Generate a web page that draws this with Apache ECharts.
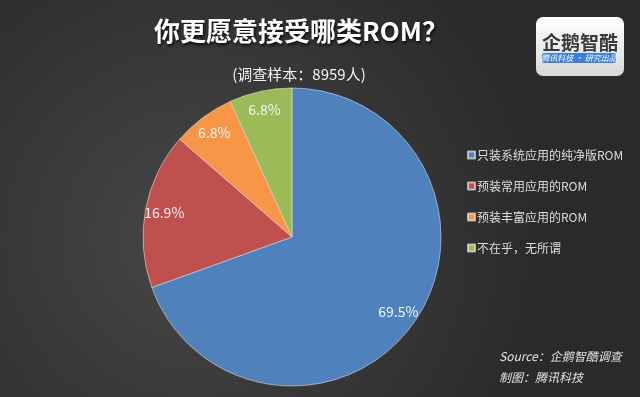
<!DOCTYPE html>
<html><head><meta charset="utf-8">
<script src="https://cdn.jsdelivr.net/npm/echarts@6/dist/echarts.min.js"></script>
<style>html,body{margin:0;padding:0;background:#333;}#c{width:640px;height:397px;}</style>
</head><body><div id="c"></div>
<script>
var categories = ['只装系统应用的纯净版ROM', '预装常用应用的ROM', '预装丰富应用的ROM', '不在乎，无所谓'];
var values = [69.5, 16.9, 6.8, 6.8];
var colors = ['#4f81bd', '#c0504d', '#f79646', '#9bbb59'];
var titleText = '你更愿意接受哪类ROM？';
var subText = '(调查样本：8959人)';

var font = '"Noto Sans CJK SC", "Noto Sans", sans-serif';
var data = categories.map(function (c, i) { return { name: c, value: values[i], itemStyle: { color: colors[i] } }; });
var labelData = categories.map(function (c, i) { return { name: c, value: values[i] }; });

var chart = echarts.init(document.getElementById('c'));
chart.setOption({
  backgroundColor: {
    type: 'radial', x: 0.3, y: 0.6, r: 0.9,
    colorStops: [{ offset: 0, color: '#474747' }, { offset: 1, color: '#2a2a2a' }]
  },
  animation: false,
  title: [{
    text: titleText, left: 296, top: 13, textAlign: 'center',
    textStyle: { color: '#ffffff', fontSize: 26, fontWeight: 'bold', fontFamily: font,
      textShadowColor: 'rgba(0,0,0,0.8)', textShadowBlur: 3, textShadowOffsetX: 1, textShadowOffsetY: 2 }
  }, {
    text: subText, left: 294, top: 62, textAlign: 'center',
    textStyle: { color: '#f2f2f2', fontSize: 15, fontWeight: 'normal', fontFamily: font }
  }],
  legend: {
    orient: 'vertical', left: 462, top: 144, itemWidth: 7, itemHeight: 7, itemGap: 19,
    icon: 'rect', data: categories,
    textStyle: { color: '#dddddd', fontSize: 12, fontFamily: font, padding: [0, 0, 0, -3] }
  },
  series: [{
    type: 'pie', center: [292, 237], radius: [0, 149], startAngle: 90, clockwise: true,
    silent: true, data: data, label: { show: false }, labelLine: { show: false },
    itemStyle: { borderColor: 'rgba(230,230,230,0.7)', borderWidth: 0.8 }
  }, {
    type: 'pie', center: [292, 237], radius: [105, 149], startAngle: 90, clockwise: true,
    silent: true, data: labelData, itemStyle: { color: 'rgba(0,0,0,0)', borderWidth: 0 },
    labelLine: { show: false },
    label: { show: true, position: 'inside', color: '#f4f4f4', fontSize: 14, fontFamily: font,
      formatter: function (p) { return p.value.toFixed(1) + '%'; } }
  }],
  graphic: [
    { type: 'rect', shape: { x: 536, y: 17, width: 88, height: 59, r: 7 },
      style: { fill: { type: 'linear', x: 0, y: 0, x2: 0, y2: 1, colorStops: [{ offset: 0, color: '#ffffff' }, { offset: 1, color: '#d8d8d8' }] } } },
    { type: 'text', style: { text: '企鹅智酷', x: 580, y: 43, align: 'center', verticalAlign: 'middle',
      fill: '#3a3a3a', font: 'bold 19px ' + font } },
    { type: 'rect', shape: { x: 542, y: 53, width: 74, height: 10, r: 2 }, style: { fill: '#3d7fd9' } },
    { type: 'text', style: { text: '腾讯科技 · 研究出品', x: 579, y: 58, align: 'center', verticalAlign: 'middle',
      fill: '#ffffff', font: 'italic 8px ' + font } },
    { type: 'text', style: { text: 'Source：企鹅智酷调查', x: 499, y: 356, verticalAlign: 'middle',
      fill: '#e0e0e0', font: 'italic 12px ' + font } },
    { type: 'text', style: { text: '制图：腾讯科技', x: 499, y: 377, verticalAlign: 'middle',
      fill: '#e0e0e0', font: 'italic 12px ' + font } }
  ]
});
</script></body></html>
